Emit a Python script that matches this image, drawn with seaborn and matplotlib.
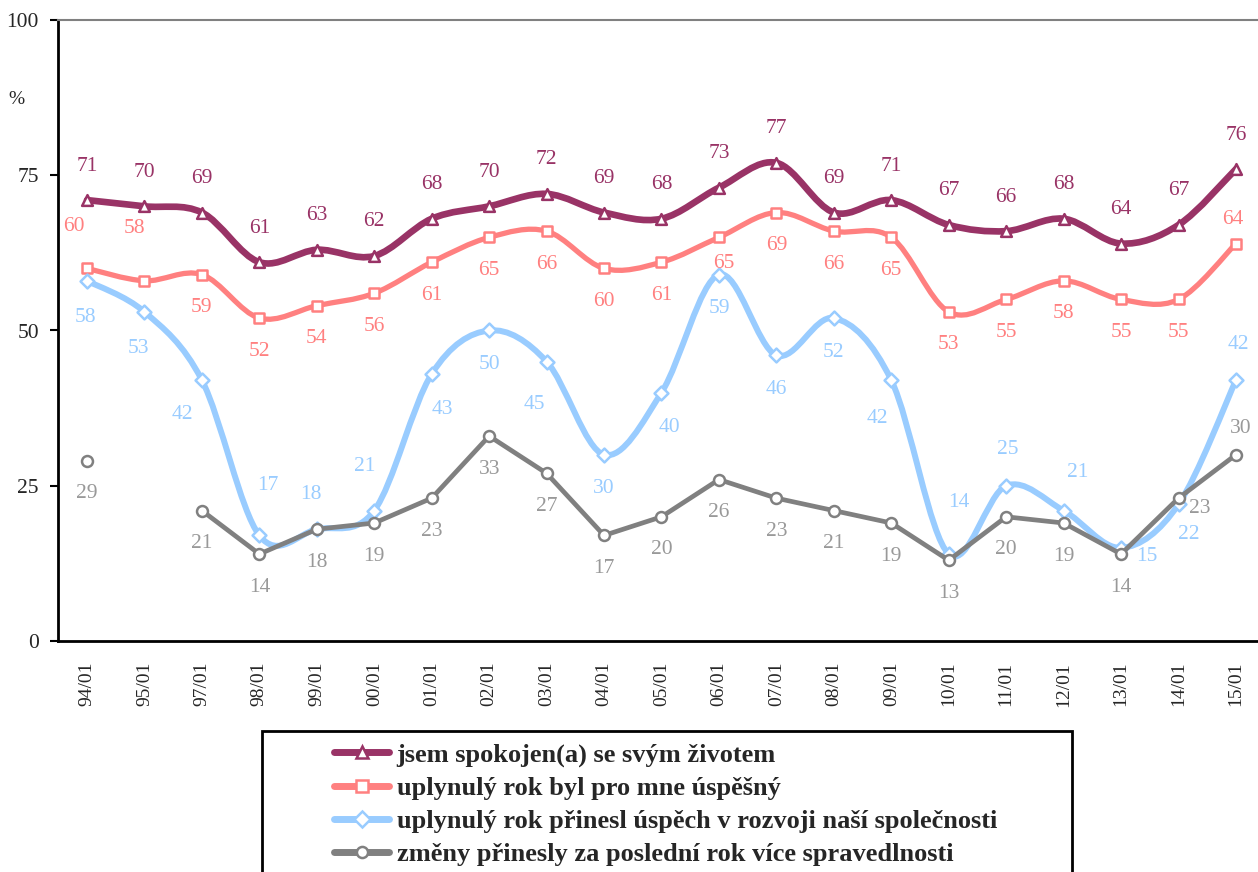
import matplotlib
matplotlib.use("Agg")
import matplotlib.pyplot as plt
from matplotlib.path import Path
from matplotlib.patches import PathPatch, Rectangle
from matplotlib.lines import Line2D
import numpy as np
import pandas as pd
import seaborn as sns

# --- data ---
periods = ["94/01", "95/01", "97/01", "98/01", "99/01", "00/01", "01/01",
           "02/01", "03/01", "04/01", "05/01", "06/01", "07/01", "08/01",
           "09/01", "10/01", "11/01", "12/01", "13/01", "14/01", "15/01"]
spokojen = [71, 70, 69, 61, 63, 62, 68, 70, 72, 69, 68, 73, 77, 69, 71,
            67, 66, 68, 64, 67, 76]
uspesny_rok = [60, 58, 59, 52, 54, 56, 61, 65, 66, 60, 61, 65, 69, 66, 65,
               53, 55, 58, 55, 55, 64]
uspech_spolecnosti = [58, 53, 42, 17, 18, 21, 43, 50, 45, 30, 40, 59, 46, 52,
                      42, 14, 25, 21, 15, 22, 42]
spravedlnost = [29, np.nan, 21, 14, 18, 19, 23, 33, 27, 17, 20, 26, 23, 21,
                19, 13, 20, 19, 14, 23, 30]

series_names = ["jsem spokojen(a) se svým životem",
                "uplynulý rok byl pro mne úspěšný",
                "uplynulý rok přinesl úspěch v rozvoji naší společnosti",
                "změny přinesly za poslední rok více spravedlnosti"]
series_values = [spokojen, uspesny_rok, uspech_spolecnosti, spravedlnost]

# --- styles ---
colors = ["#993366", "#FF8080", "#99CCFF", "#808080"]
text_colors = ["#993366", "#FF8080", "#99CCFF", "#999999"]
markers = ["^", "s", "D", "o"]
marker_s = [60, 62, 50, 62]
legend_ms = [8, 8.5, 8, 8]
line_w = [4.8, 3.8, 4.3, 3.4]
smoothed = [True, True, True, False]

# label offsets in pixels (default per series, plus single overrides)
default_off = [(0, 34), (0, -33), (0, -34), (0, -33)]
label_off = {
    (1, 0): (-13, 42), (1, 1): (-10, 52), (1, 11): (5, -26), (1, 20): (-3, 24),
    (2, 0): (-2, -37), (2, 1): (-6, -37), (2, 2): (-20, -34), (2, 3): (8, 50),
    (2, 4): (-6, 35), (2, 5): (-10, 44), (2, 6): (11, -36), (2, 8): (-12, -43),
    (2, 10): (8, -35), (2, 14): (-14, -38), (2, 15): (10, 52), (2, 16): (2, 36),
    (2, 17): (14, 38), (2, 18): (26, -9), (2, 19): (10, -30), (2, 20): (2, 36),
    (3, 19): (21, -10), (3, 20): (5, 26),
}

sns.set_style("white")
plt.rcParams["font.family"] = ["Liberation Serif", "DejaVu Serif"]

fig = plt.figure(figsize=(12.58, 8.72), dpi=100)
ax = fig.add_axes([58.3 / 1258, 1 - 641 / 872, (1264.7 - 58.3) / 1258, 621 / 872])

pos = np.arange(len(periods))


def smooth_path(xs, ys):
    # Catmull-Rom style cubic bezier through the points (like Excel's smoothed line)
    pts = np.column_stack([xs, ys]).astype(float)
    n = len(pts)
    verts = [pts[0]]
    codes = [Path.MOVETO]
    for k in range(n - 1):
        p0 = pts[max(k - 1, 0)]
        p1 = pts[k]
        p2 = pts[k + 1]
        p3 = pts[min(k + 2, n - 1)]
        verts += [p1 + (p2 - p0) / 6, p2 - (p3 - p1) / 6, p2]
        codes += [Path.CURVE4] * 3
    return Path(verts, codes)


for i, vals in enumerate(series_values):
    df = pd.DataFrame({"x": pos, "y": vals})
    df["seg"] = df["y"].isna().cumsum()
    df = df.dropna()
    z = 2 + i
    if smoothed[i]:
        for _, g in df.groupby("seg"):
            ax.add_patch(PathPatch(smooth_path(g["x"], g["y"]), facecolor="none",
                                   edgecolor=colors[i], lw=line_w[i],
                                   capstyle="round", joinstyle="round", zorder=z))
    else:
        sns.lineplot(data=df, x="x", y="y", units="seg", estimator=None,
                     color=colors[i], lw=line_w[i], ax=ax, zorder=z,
                     solid_joinstyle="round")
    sns.scatterplot(data=df, x="x", y="y", marker=markers[i], s=marker_s[i],
                    color="white", edgecolor=colors[i], linewidth=1.8,
                    ax=ax, zorder=z + 0.5, legend=False)
    for xi, yi in zip(df["x"], df["y"]):
        dx, dy = label_off.get((i, int(xi)), default_off[i])
        ax.annotate(f"{int(yi)}", (xi, yi), xytext=(dx, dy),
                    textcoords="offset pixels", ha="center", va="center",
                    fontsize=15.5, color=text_colors[i], zorder=10)

# axes
ax.set_xlim(-0.5, len(periods) - 0.5)
ax.set_ylim(0, 100)
ax.set_yticks([0, 25, 50, 75, 100])
ax.set_xticks(pos)
ax.set_xticklabels(periods, rotation=90, fontsize=14)
ax.set_xticks(np.arange(len(periods) + 1) - 0.5, minor=True)
ax.tick_params(axis="x", which="major", length=0, pad=15)
ax.tick_params(axis="x", which="minor", length=6, width=1.5, color="black")
ax.tick_params(axis="y", length=6, width=1.5, color="black", pad=8,
               labelsize=15.5, left=True)
ax.set_xlabel("")
ax.set_ylabel("")
for s in ["left", "bottom"]:
    ax.spines[s].set_color("black")
    ax.spines[s].set_linewidth(2)
ax.spines["top"].set_color("#808080")
ax.spines["top"].set_linewidth(1.5)
ax.spines["right"].set_visible(False)
ax.grid(False)

fig.text(16 / 1258, 1 - 100 / 872, "%", fontsize=14, ha="center", va="center")

# legend box and entries
fig.patches.append(Rectangle((262 / 1258, -0.05), (1072 - 262) / 1258,
                             1 - 731 / 872 + 0.05,
                             transform=fig.transFigure, facecolor="white",
                             edgecolor="black", lw=2, zorder=0))
handles = [Line2D([], [], color=colors[i], lw=5, marker=markers[i],
                  markersize=legend_ms[i], markerfacecolor="white",
                  markeredgecolor=colors[i], markeredgewidth=1.8)
           for i in range(4)]
fig.legend(handles, series_names, loc="upper left",
           bbox_to_anchor=(334 / 1258, 1 - 743 / 872), frameon=False,
           prop={"weight": "bold", "size": 19}, handlelength=2.1,
           handletextpad=0.27, labelspacing=0.36, borderpad=0,
           borderaxespad=0)

fig.savefig("out.png", dpi=100)
